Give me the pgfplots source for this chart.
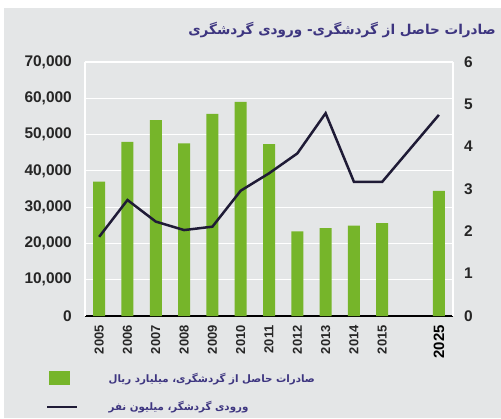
\documentclass[border=0pt]{standalone}
\usepackage{pgfplots}
\pgfplotsset{compat=1.18}
\usepackage{pgfplotstable}
\usepackage{fontspec}
\setmainfont{Liberation Sans}
\newfontfamily\arabicfont[Script=Arabic]{DejaVu Sans}
\TeXXeTstate=1
\definecolor{bg}{HTML}{E4E6E7}
\definecolor{barg}{HTML}{76B52A}
\definecolor{linec}{HTML}{1F1B36}
\definecolor{txtp}{HTML}{3D3580}
\definecolor{tickc}{HTML}{262626}

\pgfplotstableread{
x val
0 37000
1 48000
2 54000
3 47600
4 55700
5 59000
6 47400
7 23300
8 24200
9 24900
10 25600
12 34500
}\bars

\pgfplotstableread{
x val
0 1.87
1 2.74
2 2.23
3 2.03
4 2.11
5 2.96
6 3.37
7 3.84
8 4.79
9 3.17
10 3.17
12 4.75
}\visitors

\begin{document}
\begin{tikzpicture}[x=1bp,y=1bp]
\useasboundingbox (0,0) rectangle (501,418);
\fill[bg] (4,0) rectangle (501,410);
\node[anchor=east, text=txtp, inner sep=0pt, font=\arabicfont\bfseries\fontsize{13.6}{16}\selectfont] at (496,388) {\beginR صادرات حاصل از گردشگری- ورودی گردشگری\endR};
\begin{axis}[
  at={(85bp,102bp)}, anchor=south west,
  scale only axis, width=368bp, height=254bp,
  xmin=-0.5, xmax=12.5, ymin=0, ymax=70000,
  axis x line*=bottom, axis y line*=left,
  x axis line style={black, line width=1.3bp, -},
  y axis line style={white, line width=1.2bp, -},
  tick style={draw=none},
  major tick length=0pt,
  scaled y ticks=false,
  ytick={0,10000,20000,30000,40000,50000,60000,70000},
  yticklabels={0,{10,000},{20,000},{30,000},{40,000},{50,000},{60,000},{70,000}},
  yticklabel style={font=\bfseries\fontsize{15.5}{15}\selectfont, text=tickc, inner sep=0pt, xshift=-13bp},
  xtick={0,1,2,3,4,5,6,7,8,9,10,12},
  xticklabels={2005,2006,2007,2008,2009,2010,2011,2012,2013,2014,2015,{\fontsize{15}{15}\selectfont\color{black}2025}},
  xticklabel style={rotate=90, anchor=east, font=\bfseries\fontsize{13}{13}\selectfont, text=tickc, inner sep=0pt},
  xticklabel shift=9bp,
  ymajorgrids, grid style={white, line width=1.2bp},
  legend style={at={(-0.106,-0.215)}, anchor=north west, draw=none, fill=none, inner sep=0pt,
    font=\arabicfont\bfseries\fontsize{10.3}{12}\selectfont, text=txtp, row sep=14bp},
  legend cell align=left,
  /tikz/every odd column/.append style={column sep=28bp},
]
\addplot[ybar, bar width=12bp, bar shift=0pt, fill=barg, draw=none,
  legend image code/.code={\fill[barg] (0bp,-7bp) rectangle (21bp,7bp);}]
  table[x=x, y=val]{\bars};
\addlegendentry{\beginR صادرات حاصل از گردشگری، میلیارد ریال\endR}
\addlegendimage{legend image code/.code={\draw[linec, line width=2.5bp] (-2bp,0bp) -- (28bp,0bp);}}
\addlegendentry{\beginR ورودی گردشگر، میلیون نفر\endR}
\end{axis}
\begin{axis}[
  at={(85bp,102bp)}, anchor=south west,
  scale only axis, width=368bp, height=254bp,
  xmin=-0.5, xmax=12.5, ymin=0, ymax=6,
  axis x line=none, axis y line*=right,
  y axis line style={white, line width=1.2bp, -},
  tick style={draw=none}, major tick length=0pt,
  ytick={0,1,2,3,4,5,6},
  yticklabel style={font=\bfseries\fontsize{15.5}{15}\selectfont, text=tickc, inner sep=0pt, xshift=11bp},
  /pgf/number format/assume math mode=true,
]
\addplot[linec, line width=2.5bp, no markers] table[x=x, y=val]{\visitors};
\end{axis}
\end{tikzpicture}
\end{document}
